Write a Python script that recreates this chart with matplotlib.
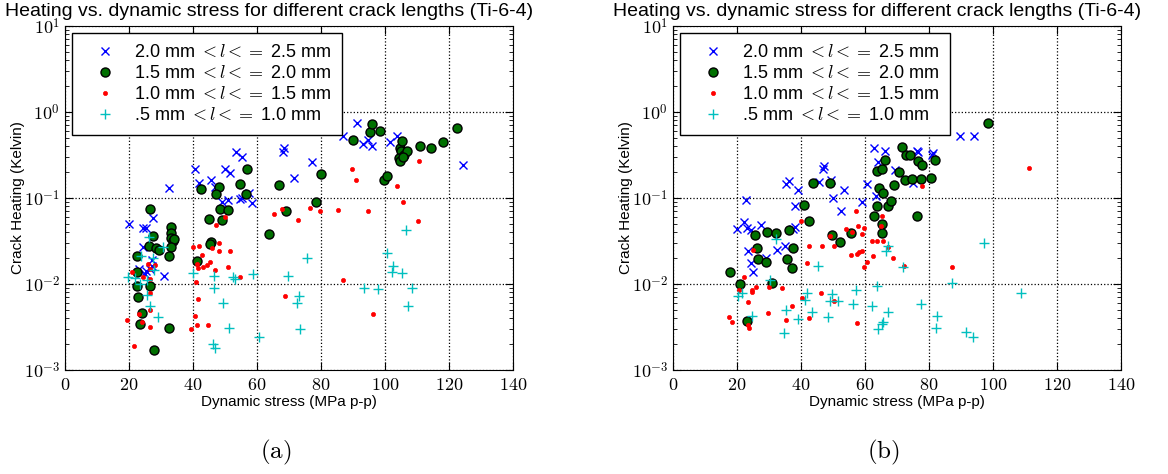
import numpy as np
import matplotlib
matplotlib.use("Agg")
import matplotlib.pyplot as plt
from matplotlib.ticker import FuncFormatter, LogLocator, FixedLocator

plt.rcParams['font.family'] = ['Liberation Sans', 'DejaVu Sans']
plt.rcParams['mathtext.fontset'] = 'cm'

title = "Heating vs. dynamic stress for different crack lengths (Ti-6-4)"
labels = ["2.0 mm $<l<=$ 2.5 mm", "1.5 mm $<l<=$ 2.0 mm",
          "1.0 mm $<l<=$ 1.5 mm", ".5 mm $<l<=$ 1.0 mm"]
xticks = [0, 20, 40, 60, 80, 100, 120, 140]

# ---- panel (a) ----
a_blue_x = [20.1, 24.5, 25.3, 27.4, 24.3, 27.1, 23.2, 25.4, 26.5, 27.3, 25.0, 31.0, 32.6, 40.7, 41.8,
            45.6, 47.0, 50.0, 51.6, 53.4, 55.4, 57.4, 49.0, 50.8, 54.7, 55.2, 58.3, 68.0, 68.4, 71.4,
            77.3, 86.8, 91.3, 93.0, 94.8, 95.8, 101.4, 103.6, 124.5]
a_blue_y = [0.050, 0.045, 0.045, 0.059, 0.027, 0.019, 0.015, 0.014, 0.015, 0.016, 0.013, 0.0125, 0.13, 0.22, 0.148,
            0.162, 0.134, 0.22, 0.194, 0.34, 0.30, 0.113, 0.090, 0.095, 0.097, 0.10, 0.087, 0.34, 0.38, 0.17,
            0.26, 0.52, 0.74, 0.43, 0.47, 0.40, 0.45, 0.52, 0.24]

a_green_x = [26.4, 27.6, 26.3, 28.3, 29.3, 33.0, 33.0, 33.0, 33.7, 34.0, 33.0, 32.6, 22.6, 22.6, 22.4,
             26.6, 22.8, 24.0, 23.4, 27.8, 32.4, 41.3, 45.6, 45.2, 42.6, 48.2, 47.3, 54.7, 56.7, 56.6,
             48.4, 51.0, 44.9, 49.0, 63.8, 67.0, 69.0, 78.4, 80.1, 89.9, 95.3, 95.8, 98.4, 99.7, 100.7,
             104.7, 105.0, 105.3, 106.0, 107.0, 104.2, 104.7, 105.5, 110.9, 114.4, 118.2, 122.6]
a_green_y = [0.074, 0.036, 0.028, 0.026, 0.025, 0.046, 0.039, 0.034, 0.032, 0.033, 0.027, 0.021, 0.021, 0.0137, 0.0096,
             0.0095, 0.0070, 0.0046, 0.0034, 0.0017, 0.0031, 0.0185, 0.031, 0.029, 0.126, 0.134, 0.111, 0.146, 0.22, 0.110,
             0.074, 0.073, 0.057, 0.055, 0.038, 0.14, 0.071, 0.090, 0.19, 0.47, 0.58, 0.72, 0.60, 0.16, 0.18,
             0.38, 0.35, 0.46, 0.32, 0.35, 0.29, 0.27, 0.30, 0.40, 0.38, 0.45, 0.65]

a_red_x = [47.2, 49.9, 65.2, 67.8, 72.7, 76.6, 79.7, 85.4, 94.7, 89.6, 90.9, 110.6, 103.7, 105.5, 110.4,
           40.1, 41.7, 48.0, 46.0, 42.7, 48.0, 51.6, 41.1, 41.5, 43.2, 44.3, 45.3, 46.7, 51.0, 54.6,
           40.9, 41.5, 40.7, 41.2, 44.7, 39.3, 25.9, 28.0, 26.6, 26.6, 26.6, 26.6, 26.6, 20.8, 24.3,
           23.2, 23.9, 19.3, 21.6, 68.8, 86.8, 96.2]
a_red_y = [0.048, 0.060, 0.065, 0.075, 0.056, 0.077, 0.071, 0.073, 0.070, 0.22, 0.16, 0.27, 0.137, 0.089, 0.054,
           0.027, 0.028, 0.030, 0.026, 0.022, 0.024, 0.024, 0.017, 0.0155, 0.0156, 0.0166, 0.018, 0.0145, 0.0156, 0.012,
           0.0105, 0.0067, 0.0042, 0.0033, 0.0033, 0.0030, 0.017, 0.0168, 0.0148, 0.0114, 0.0078, 0.0050, 0.0032, 0.0139, 0.0122,
           0.0045, 0.0036, 0.0038, 0.0019, 0.0073, 0.011, 0.0045]

a_cyan_x = [26.3, 30.7, 23.8, 27.6, 27.9, 19.8, 21.9, 25.5, 23.4, 25.7, 26.6, 29.0, 39.9, 46.6, 46.6,
            49.3, 51.3, 46.3, 46.9, 52.6, 53.1, 58.8, 60.7, 69.6, 75.7, 73.2, 72.6, 73.4, 100.5, 102.6,
            102.1, 105.2, 93.4, 97.9, 108.3, 107.3, 106.6]
a_cyan_y = [0.035, 0.027, 0.021, 0.020, 0.0145, 0.0122, 0.0119, 0.0112, 0.0100, 0.0075, 0.0055, 0.0041, 0.0133, 0.0124, 0.0090,
            0.0060, 0.0031, 0.0020, 0.0018, 0.012, 0.0113, 0.013, 0.0024, 0.0124, 0.020, 0.0073, 0.0060, 0.0030, 0.0228, 0.0163,
            0.0137, 0.0133, 0.0090, 0.0087, 0.0089, 0.0056, 0.043]

# ---- panel (b) ----
b_blue_x = [19.9, 22.2, 23.2, 24.3, 22.8, 27.5, 32.4, 35.0, 35.3, 36.3, 39.1, 38.0, 37.6, 38.2, 45.5,
            47.0, 47.3, 49.3, 49.9, 53.5, 52.4, 58.9, 60.5, 62.8, 66.3, 64.1, 63.4, 69.4, 76.2, 75.1,
            76.5, 80.8, 81.3, 89.8, 94.1, 23.5, 24.3, 25.1, 29.1]
b_blue_y = [0.0434, 0.052, 0.045, 0.042, 0.095, 0.049, 0.025, 0.028, 0.146, 0.159, 0.124, 0.080, 0.044, 0.046, 0.154,
            0.22, 0.238, 0.162, 0.099, 0.124, 0.071, 0.091, 0.144, 0.38, 0.35, 0.265, 0.106, 0.212, 0.35, 0.148,
            0.34, 0.316, 0.33, 0.52, 0.52, 0.024, 0.0175, 0.0139, 0.020]

b_green_x = [17.8, 20.9, 23.2, 25.6, 26.1, 26.5, 29.0, 29.3, 31.0, 32.1, 35.5, 36.3, 37.1, 37.6, 40.9,
             42.5, 43.6, 49.0, 49.6, 52.2, 55.6, 62.8, 63.6, 63.8, 64.5, 65.4, 65.4, 65.4, 65.5, 66.3,
             67.1, 68.1, 69.2, 70.7, 71.5, 72.5, 72.8, 74.0, 74.8, 76.2, 76.5, 77.4, 77.9, 80.6, 81.9, 98.3]
b_green_y = [0.0137, 0.010, 0.0037, 0.037, 0.026, 0.0196, 0.018, 0.040, 0.0102, 0.039, 0.0194, 0.043, 0.0155, 0.026, 0.083,
             0.054, 0.151, 0.148, 0.037, 0.031, 0.039, 0.062, 0.080, 0.208, 0.13, 0.22, 0.050, 0.039, 0.114, 0.28,
             0.080, 0.092, 0.142, 0.20, 0.39, 0.162, 0.32, 0.32, 0.165, 0.061, 0.27, 0.166, 0.24, 0.172, 0.28, 0.75]

b_red_x = [40.0, 49.0, 54.0, 55.8, 57.1, 57.8, 59.1, 59.7, 42.6, 46.7, 50.3, 62.1, 63.8, 65.7, 65.3,
           64.9, 67.2, 55.5, 57.6, 58.2, 58.9, 62.4, 60.7, 59.7, 68.8, 72.3, 41.8, 22.2, 24.6, 24.8,
           25.8, 20.7, 23.3, 30.0, 34.2, 29.8, 37.1, 35.3, 17.4, 18.5, 23.5, 23.8, 40.4, 42.5, 46.3,
           50.3, 57.5, 111.3, 77.7, 87.3, 25.0]
b_red_y = [0.054, 0.036, 0.044, 0.040, 0.071, 0.047, 0.038, 0.045, 0.0276, 0.0276, 0.0276, 0.032, 0.032, 0.032, 0.062,
           0.047, 0.027, 0.0218, 0.0222, 0.0237, 0.024, 0.0213, 0.018, 0.0157, 0.020, 0.0163, 0.0177, 0.0121, 0.0086, 0.0080,
           0.0093, 0.0085, 0.0062, 0.0092, 0.0091, 0.0046, 0.0056, 0.0038, 0.0041, 0.0036, 0.0033, 0.0031, 0.0068, 0.0040, 0.0078,
           0.0063, 0.0035, 0.225, 0.139, 0.0159, 0.025]

b_cyan_x = [32.1, 45.4, 67.1, 66.4, 71.8, 30.3, 20.3, 21.5, 41.9, 41.3, 49.8, 49.0, 51.7, 57.1, 56.3,
            63.6, 62.2, 67.3, 65.5, 65.2, 64.2, 35.3, 39.0, 43.3, 48.3, 34.7, 24.8, 77.5, 97.2, 87.3,
            108.7, 82.4, 82.2, 91.6, 93.8]
b_cyan_y = [0.033, 0.0162, 0.028, 0.024, 0.0157, 0.011, 0.0072, 0.0079, 0.0079, 0.0066, 0.0076, 0.0064, 0.0064, 0.0085, 0.0059,
            0.0095, 0.0056, 0.0047, 0.0036, 0.0034, 0.0030, 0.0050, 0.0039, 0.0047, 0.0041, 0.0027, 0.0043, 0.0058, 0.030, 0.0102,
            0.0079, 0.0042, 0.0031, 0.0028, 0.0024]


def draw_panel(ax, bx, by, gx, gy, rx, ry, cx, cy, caption):
    ax.plot(bx, by, 'x', color='b', ms=6, mew=1.0, ls='none', label=labels[0])
    ax.plot(gx, gy, 'o', color='#007000', mec='k', ms=6.5, mew=1.0, ls='none', label=labels[1])
    ax.plot(rx, ry, 'o', color='r', mec='r', ms=3, mew=0.5, ls='none', label=labels[2])
    ax.plot(cx, cy, '+', color='c', ms=6.5, mew=1.0, ls='none', label=labels[3])
    ax.set_yscale('log')
    ax.set_xlim(0, 140)
    ax.set_ylim(1e-3, 1e1)
    ax.xaxis.set_major_locator(FixedLocator(xticks))
    ax.xaxis.set_major_formatter(FuncFormatter(lambda v, p: r'$%d$' % v))
    ax.yaxis.set_major_locator(LogLocator(base=10, numticks=10))
    ax.yaxis.set_major_formatter(FuncFormatter(lambda v, p: r'$10^{%d}$' % round(np.log10(v))))
    ax.tick_params(which='both', direction='in', top=True, right=True)
    ax.tick_params(which='major', length=6, labelsize=13)
    ax.tick_params(axis='x', which='major', pad=5)
    ax.tick_params(which='minor', length=3)
    ax.grid(True, which='major', ls=':', color='k', lw=0.9)
    ax.set_title(title, fontsize=14, x=0.456, pad=7)
    ax.set_xlabel("Dynamic stress (MPa p-p)", fontsize=11, labelpad=1)
    ax.set_ylabel("Crack Heating (Kelvin)", fontsize=11, labelpad=-1)
    leg = ax.legend(loc='upper left', fontsize=13, numpoints=1, fancybox=False,
                    borderaxespad=0.4, borderpad=0.6, handlelength=2.4, handletextpad=0.4,
                    labelspacing=0.22)
    leg.get_frame().set_edgecolor('k')
    leg.get_frame().set_alpha(1.0)
    ax.text(0.47, -0.24, r'$\mathrm{(%s)}$' % caption, transform=ax.transAxes,
            ha='center', va='center', fontsize=18)


fig = plt.figure(figsize=(11.68, 4.74), dpi=100)
ax1 = fig.add_axes([0.0557, 0.2194, 0.3836, 0.7257])
ax2 = fig.add_axes([0.5762, 0.2194, 0.3836, 0.7257])
draw_panel(ax1, a_blue_x, a_blue_y, a_green_x, a_green_y, a_red_x, a_red_y, a_cyan_x, a_cyan_y, 'a')
draw_panel(ax2, b_blue_x, b_blue_y, b_green_x, b_green_y, b_red_x, b_red_y, b_cyan_x, b_cyan_y, 'b')
fig.savefig('out.png', dpi=100)
